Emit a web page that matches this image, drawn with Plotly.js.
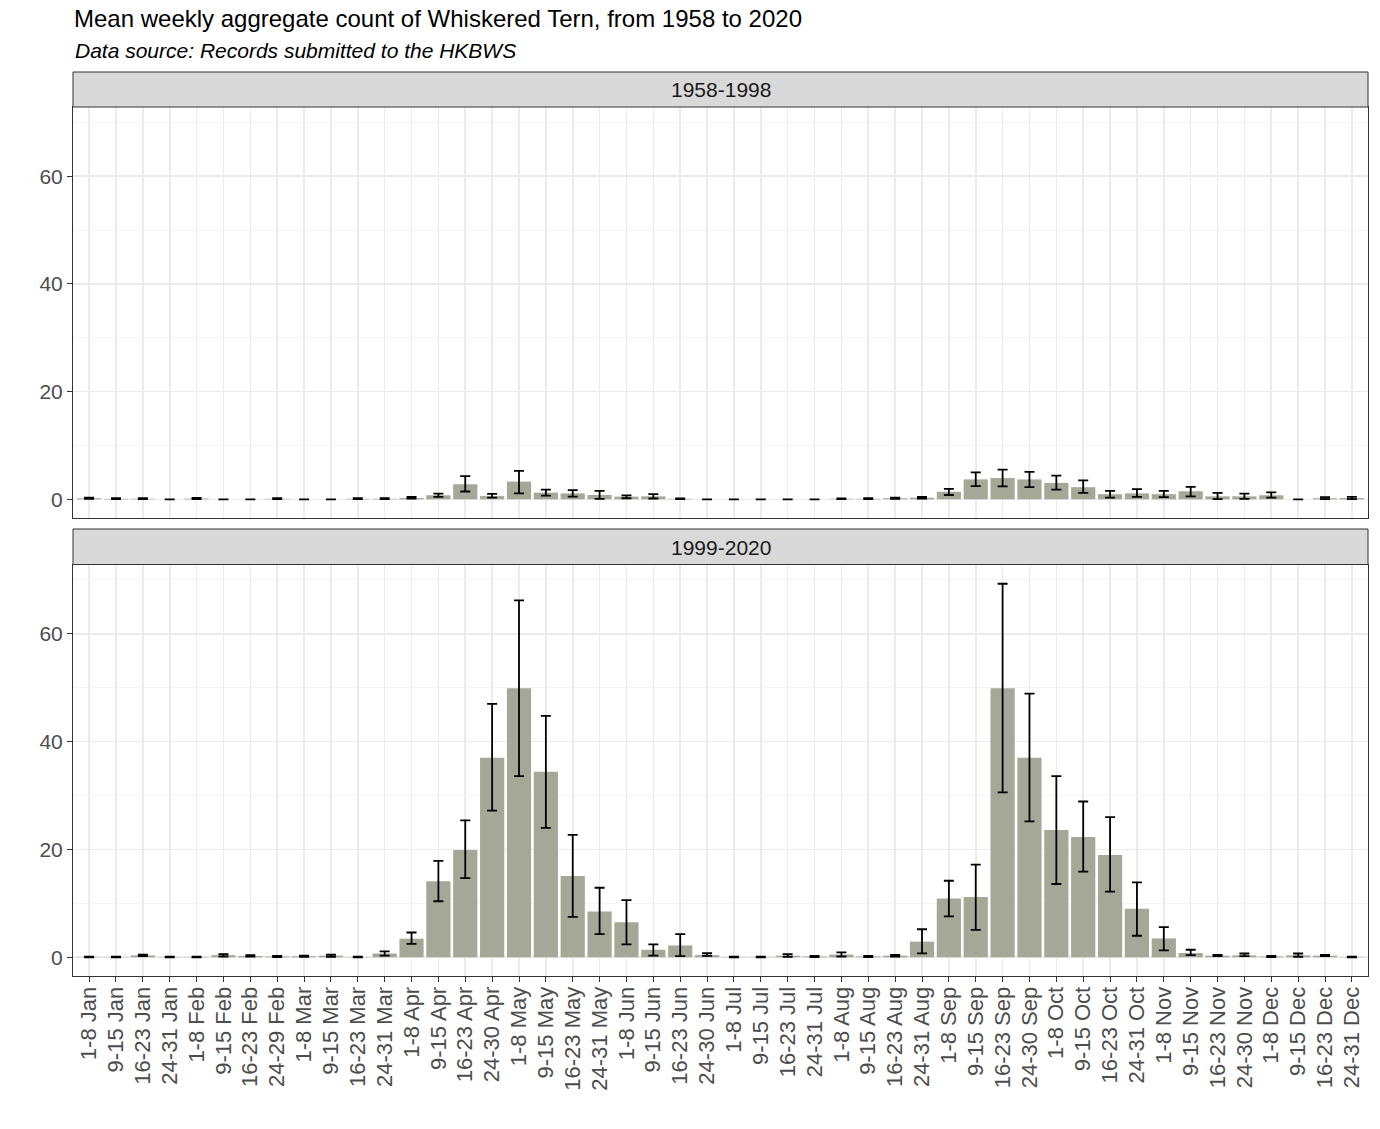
<!DOCTYPE html>
<html>
<head>
<meta charset="utf-8">
<script src="https://cdn.plot.ly/plotly-3.0.1.min.js"></script>
<style>html,body{margin:0;padding:0;background:#fff;}#chart{width:1380px;height:1129px;}</style>
</head>
<body>
<div id="chart"></div>
<script>
// Week-period categories (tick labels)
const periods = [
  "1-8 Jan","9-15 Jan","16-23 Jan","24-31 Jan",
  "1-8 Feb","9-15 Feb","16-23 Feb","24-29 Feb",
  "1-8 Mar","9-15 Mar","16-23 Mar","24-31 Mar",
  "1-8 Apr","9-15 Apr","16-23 Apr","24-30 Apr",
  "1-8 May","9-15 May","16-23 May","24-31 May",
  "1-8 Jun","9-15 Jun","16-23 Jun","24-30 Jun",
  "1-8 Jul","9-15 Jul","16-23 Jul","24-31 Jul",
  "1-8 Aug","9-15 Aug","16-23 Aug","24-31 Aug",
  "1-8 Sep","9-15 Sep","16-23 Sep","24-30 Sep",
  "1-8 Oct","9-15 Oct","16-23 Oct","24-31 Oct",
  "1-8 Nov","9-15 Nov","16-23 Nov","24-30 Nov",
  "1-8 Dec","9-15 Dec","16-23 Dec","24-31 Dec"
];

// 1958-1998: mean, lower and upper error limits
const mean1958 = [0.2,0.1,0.1,0,0.15,0,0,0.1,0,0,0.1,0.1,
  0.25,0.75,2.8,0.6,3.3,1.25,1.1,0.8,0.5,0.55,0.1,0,
  0,0,0,0,0.1,0.1,0.2,0.3,1.4,3.7,3.95,3.7,
  3.05,2.25,0.95,1.1,0.95,1.5,0.55,0.55,0.75,0,0.2,0.25];
const low1958 = [0.1,0.05,0.05,0,0.05,0,0,0.05,0,0,0.05,0.03,
  0.15,0.45,1.45,0.3,1.1,0.7,0.5,0.1,0.2,0.15,0.05,0,
  0,0,0,0,0.05,0.05,0.1,0.15,0.8,2.45,2.4,2.25,
  1.8,1.2,0.3,0.45,0.4,0.55,0.05,0.1,0.3,0,0.05,0.05];
const high1958 = [0.3,0.2,0.2,0,0.25,0,0,0.2,0,0,0.2,0.2,
  0.45,1.05,4.3,1.0,5.3,1.8,1.7,1.55,0.75,0.95,0.15,0,
  0,0,0,0,0.15,0.2,0.3,0.45,1.95,5.0,5.5,5.1,
  4.4,3.5,1.55,1.9,1.55,2.3,1.2,1.05,1.3,0,0.4,0.45];

// 1999-2020: mean, lower and upper error limits
const mean1999 = [0.05,0.05,0.35,0.05,0.05,0.4,0.25,0.15,0.2,0.3,0.05,0.7,
  3.45,14.1,19.9,37.0,49.9,34.4,15.1,8.5,6.5,1.4,2.2,0.4,
  0.05,0.05,0.3,0.15,0.5,0.15,0.3,2.9,10.9,11.2,49.9,37.0,
  23.6,22.3,19.0,9.0,3.5,0.8,0.3,0.35,0.15,0.35,0.3,0.05];
const low1999 = [0,0,0.2,0,0,0.15,0.15,0.05,0.1,0.1,0,0.3,
  2.5,10.4,14.7,27.2,33.6,24.0,7.5,4.3,2.4,0.3,0.2,0.25,
  0,0,0.1,0.05,0.15,0.05,0.15,0.74,7.6,5.1,30.6,25.2,
  13.6,15.9,12.2,4.0,1.3,0.4,0.2,0.2,0.05,0.1,0.2,0];
const high1999 = [0.1,0.1,0.5,0.1,0.1,0.6,0.4,0.25,0.3,0.5,0.1,1.1,
  4.6,17.9,25.4,47.0,66.2,44.8,22.7,12.9,10.6,2.4,4.3,0.75,
  0.1,0.1,0.6,0.25,0.9,0.25,0.45,5.2,14.2,17.2,69.3,48.9,
  33.6,28.9,26.0,13.9,5.6,1.4,0.45,0.7,0.25,0.7,0.45,0.1];

const panelNames = ["1958-1998", "1999-2020"];
const titleText = "Mean weekly aggregate count of Whiskered Tern, from 1958 to 2020";
const subtitleText = "Data source: Records submitted to the HKBWS";

const FONT = "'Liberation Sans', Arial, sans-serif";
const barColor = "#A5A797";

function barTrace(means, lows, highs, xa, ya) {
  return {
    type: "bar", x: periods, y: means, xaxis: xa, yaxis: ya,
    marker: {color: barColor, line: {width: 0}},
    error_y: {
      type: "data", symmetric: false,
      array: means.map((m, i) => highs[i] - m),
      arrayminus: means.map((m, i) => m - lows[i]),
      color: "#000000", thickness: 1.8, width: 5
    },
    hoverinfo: "x+y", showlegend: false
  };
}

const data = [
  barTrace(mean1958, low1958, high1958, "x", "y"),
  barTrace(mean1999, low1999, high1999, "x2", "y2")
];

const H = 1129, T = 72, B = 153;
const plotH = H - T - B;
const py = p => (H - B - p) / plotH;

const yCommon = {
  range: [-3.47, 72.87], tickvals: [0, 20, 40, 60], ticktext: ["0","20","40","60"],
  showgrid: true, gridcolor: "#EBEBEB", gridwidth: 1.6,
  minor: {tickvals: [10, 30, 50, 70], showgrid: true, gridcolor: "#F2F2F2", gridwidth: 0.8, ticks: ""},
  zeroline: false, showline: true, mirror: true, linecolor: "#333333", linewidth: 1,
  ticks: "outside", ticklen: 5, tickcolor: "#333333", tickwidth: 1,
  tickfont: {family: FONT, size: 21, color: "#4D4D4D"}, fixedrange: true
};
const xCommon = {
  type: "category", range: [-0.6, 47.6],
  showgrid: true, gridcolor: "#EBEBEB", gridwidth: 1.6,
  zeroline: false, showline: true, mirror: true, linecolor: "#333333", linewidth: 1,
  tickfont: {family: FONT, size: 22, color: "#4D4D4D"}, fixedrange: true
};

const layout = {
  width: 1380, height: 1129,
  paper_bgcolor: "#FFFFFF", plot_bgcolor: "#FFFFFF",
  margin: {l: 73, r: 12, t: T, b: B},
  bargap: 0.1,
  font: {family: FONT},
  title: {
    text: titleText, xref: "container", yref: "container",
    x: 74 / 1380, xanchor: "left", y: 1 - 19 / H, yanchor: "middle",
    font: {family: FONT, size: 24, color: "#000000"}
  },
  xaxis: Object.assign({}, xCommon, {domain: [0, 1], anchor: "y", showticklabels: false, ticks: ""}),
  xaxis2: Object.assign({}, xCommon, {domain: [0, 1], anchor: "y2", tickangle: -90,
    ticks: "outside", ticklen: 5, tickcolor: "#333333", tickwidth: 1, ticklabelstandoff: -4}),
  yaxis: Object.assign({}, yCommon, {domain: [py(518), py(107)], anchor: "x"}),
  yaxis2: Object.assign({}, yCommon, {domain: [0, py(564.5)], anchor: "x2"}),
  shapes: [
    {type: "rect", xref: "paper", yref: "paper", x0: 0, x1: 1, y0: py(107), y1: py(72),
     fillcolor: "#D9D9D9", line: {color: "#333333", width: 1}, layer: "above"},
    {type: "rect", xref: "paper", yref: "paper", x0: 0, x1: 1, y0: py(564.5), y1: py(529),
     fillcolor: "#D9D9D9", line: {color: "#333333", width: 1}, layer: "above"}
  ],
  annotations: [
    {text: panelNames[0], xref: "paper", yref: "paper", x: 0.5, y: py(89.5),
     xanchor: "center", yanchor: "middle", showarrow: false,
     font: {family: FONT, size: 21, color: "#1A1A1A"}},
    {text: panelNames[1], xref: "paper", yref: "paper", x: 0.5, y: py(547),
     xanchor: "center", yanchor: "middle", showarrow: false,
     font: {family: FONT, size: 21, color: "#1A1A1A"}},
    {text: "<i>" + subtitleText + "</i>", xref: "paper", yref: "paper",
     x: 0, y: py(50), xanchor: "left", yanchor: "middle", showarrow: false,
     font: {family: FONT, size: 21, color: "#000000"}}
  ]
};

Plotly.newPlot("chart", data, layout, {displayModeBar: false, staticPlot: true});
</script>
</body>
</html>
